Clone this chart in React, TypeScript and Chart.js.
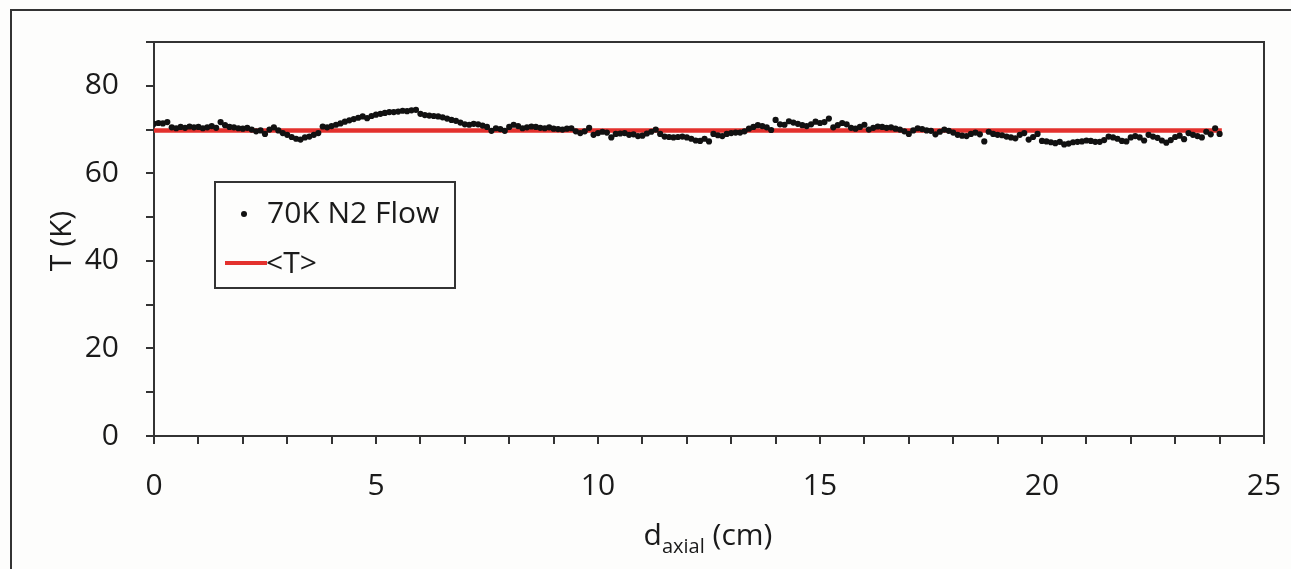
import React, { useEffect, useRef } from "react";
import { Chart, registerables } from "chart.js";

Chart.register(...registerables);

// Sample positions along the axis (cm): start and spacing of the measurement grid
const X_START = 0;
const X_STEP = 0.1;

// Measured temperature (K), one value per sample position
const tempValues: number[] = [
  71.3, 71.5, 71.4, 71.7, 70.5, 70.3, 70.6, 70.4, 70.7, 70.5,
  70.6, 70.3, 70.5, 70.8, 70.4, 71.7, 71.0, 70.6, 70.5, 70.3,
  70.2, 70.4, 70.0, 69.6, 69.8, 69.0, 70.0, 70.5, 69.8, 69.2,
  68.8, 68.3, 67.9, 67.7, 68.2, 68.4, 68.8, 69.2, 70.7, 70.5,
  70.8, 71.1, 71.4, 71.8, 72.1, 72.4, 72.7, 73.0, 72.6, 73.1,
  73.4, 73.6, 73.8, 74.0, 74.0, 74.1, 74.3, 74.2, 74.4, 74.5,
  73.6, 73.3, 73.2, 73.1, 73.0, 72.8, 72.5, 72.2, 72.0, 71.6,
  71.2, 71.1, 71.3, 71.2, 70.9, 70.6, 69.7, 70.3, 70.1, 69.7,
  70.6, 71.1, 70.8, 70.3, 70.5, 70.7, 70.6, 70.4, 70.3, 70.5,
  70.2, 70.1, 70.0, 70.2, 70.3, 69.6, 69.2, 69.6, 70.4, 68.8,
  69.2, 69.5, 69.3, 68.2, 69.0, 69.1, 69.2, 68.8, 68.9, 68.5,
  68.6, 69.1, 69.5, 70.0, 69.0, 68.4, 68.3, 68.2, 68.3, 68.4,
  68.2, 67.9, 67.5, 67.4, 67.9, 67.3, 69.0, 68.7, 68.5, 69.0,
  69.2, 69.3, 69.3, 69.6, 70.2, 70.6, 71.0, 70.8, 70.5, 69.9,
  72.2, 71.2, 71.1, 71.9, 71.6, 71.3, 71.0, 70.8, 71.2, 71.8,
  71.5, 71.7, 72.5, 70.5, 71.0, 71.5, 71.2, 70.4, 70.2, 70.6,
  71.1, 70.0, 70.4, 70.7, 70.6, 70.4, 70.5, 70.2, 70.0, 69.6,
  69.0, 69.8, 70.3, 70.1, 69.8, 69.7, 68.9, 69.5, 70.0, 69.7,
  69.3, 68.8, 68.6, 68.5, 69.0, 69.3, 68.9, 67.3, 69.5, 69.0,
  68.8, 68.7, 68.4, 68.2, 68.0, 68.8, 69.2, 67.7, 68.3, 69.0,
  67.4, 67.3, 67.1, 66.9, 67.2, 66.6, 66.8, 67.1, 67.2, 67.3,
  67.5, 67.4, 67.2, 67.2, 67.6, 68.4, 68.2, 67.9, 67.4, 67.3,
  68.2, 68.5, 68.2, 67.5, 68.8, 68.4, 68.1, 67.5, 67.0, 67.6,
  68.3, 68.6, 67.8, 69.2, 68.8, 68.5, 68.2, 69.5, 68.9, 70.3,
  69.0,
];

// Mean temperature line <T>
const meanT = 69.8;
const meanXRange: number[] = [0, 24.05];

// Axis ranges and tick steps
const xRange: number[] = [0, 25];
const yRange: number[] = [0, 90];
const xTickStep = 1;
const xLabelEvery = 5;
const yTickStep = 10;
const yLabelEvery = 20;

const seriesLabel = "70K N2 Flow";
const meanLabel = "<T>";

const FONT = "'Open Sans', 'Noto Sans', sans-serif";
const TEXT = "#1a1a1a";
const AXIS = "#333333";
const RED = "#e3312d";

const framePlugin = {
  id: "frameAndTitles",
  afterDraw(chart: any) {
    const ctx = chart.ctx as CanvasRenderingContext2D;
    const { left, top, right, bottom } = chart.chartArea;
    ctx.save();
    ctx.strokeStyle = AXIS;
    ctx.lineWidth = 2;
    ctx.beginPath();
    ctx.moveTo(left - 8, top);
    ctx.lineTo(right, top);
    ctx.lineTo(right, bottom + 8);
    ctx.stroke();

    // x-axis title: d_axial (cm)
    ctx.fillStyle = TEXT;
    ctx.textBaseline = "alphabetic";
    ctx.textAlign = "left";
    const big = `30px ${FONT}`;
    const small = `20px ${FONT}`;
    ctx.font = big;
    const wD = ctx.measureText("d").width;
    const wRest = ctx.measureText(" (cm)").width;
    ctx.font = small;
    const wSub = ctx.measureText("axial").width;
    const total = wD + wSub + wRest;
    let x = 708 - total / 2;
    const base = 545;
    ctx.font = big;
    ctx.fillText("d", x, base);
    x += wD;
    ctx.font = small;
    ctx.fillText("axial", x, base + 8);
    x += wSub;
    ctx.font = big;
    ctx.fillText(" (cm)", x, base);

    // y-axis title
    ctx.save();
    ctx.translate(71, 241);
    ctx.rotate(-Math.PI / 2);
    ctx.textAlign = "center";
    ctx.font = big;
    ctx.fillText("T (K)", 0, 0);
    ctx.restore();
    ctx.restore();
  },
};

export default function App() {
  const canvasRef = useRef<HTMLCanvasElement | null>(null);

  useEffect(() => {
    if (!canvasRef.current) return;
    const points = tempValues.map((t, i) => ({ x: X_START + i * X_STEP, y: t }));
    const chart = new Chart(canvasRef.current, {
      type: "scatter",
      data: {
        datasets: [
          {
            label: seriesLabel,
            data: points,
            backgroundColor: "#111111",
            borderColor: "#111111",
            pointRadius: 3.1,
            pointBorderWidth: 0,
            showLine: false,
            order: 0,
          },
          {
            label: meanLabel,
            type: "line",
            data: meanXRange.map((x) => ({ x, y: meanT })),
            borderColor: RED,
            borderWidth: 4.5,
            pointRadius: 0,
            showLine: true,
            fill: false,
            order: 1,
          } as any,
        ],
      },
      options: {
        responsive: false,
        animation: false,
        devicePixelRatio: 1,
        layout: { padding: { left: 0, top: 42, right: 27, bottom: 0 } },
        plugins: {
          legend: { display: false },
          tooltip: { enabled: false },
        },
        scales: {
          x: {
            type: "linear",
            min: xRange[0],
            max: xRange[1],
            afterFit: (s: any) => {
              s.height = 133;
              s.paddingLeft = 0;
              s.paddingRight = 0;
            },
            ticks: {
              stepSize: xTickStep,
              autoSkip: false,
              maxRotation: 0,
              color: TEXT,
              font: { size: 30, family: FONT },
              padding: 24,
              callback: (v: any) => (Number(v) % xLabelEvery === 0 ? String(v) : ""),
            },
            grid: {
              drawOnChartArea: false,
              drawTicks: true,
              tickLength: 8,
              color: AXIS,
              lineWidth: 2,
            },
            border: { display: true, color: AXIS, width: 2 },
          },
          y: {
            type: "linear",
            min: yRange[0],
            max: yRange[1],
            afterFit: (s: any) => {
              s.width = 154;
              s.paddingTop = 0;
              s.paddingBottom = 0;
            },
            ticks: {
              stepSize: yTickStep,
              autoSkip: false,
              color: TEXT,
              font: { size: 30, family: FONT },
              padding: 27,
              callback: (v: any) => (Number(v) % yLabelEvery === 0 ? String(v) : ""),
            },
            grid: {
              drawOnChartArea: false,
              drawTicks: true,
              tickLength: 8,
              color: AXIS,
              lineWidth: 2,
            },
            border: { display: true, color: AXIS, width: 2 },
          },
        },
      },
      plugins: [framePlugin],
    });
    return () => chart.destroy();
  }, []);

  return (
    <div
      style={{
        position: "absolute",
        left: 0,
        top: 0,
        width: 1291,
        height: 569,
        overflow: "hidden",
        background: "#fdfdfc",
      }}
    >
      <div
        style={{
          position: "absolute",
          left: 10,
          top: 9,
          width: 1400,
          height: 700,
          border: `2px solid ${AXIS}`,
        }}
      />
      <canvas
        ref={canvasRef}
        width={1291}
        height={569}
        style={{ position: "absolute", left: 0, top: 0, width: 1291, height: 569 }}
      />
      <div
        style={{
          position: "absolute",
          left: 214,
          top: 181,
          width: 242,
          height: 108,
          boxSizing: "border-box",
          border: `2px solid ${AXIS}`,
          fontFamily: FONT,
          fontSize: 30,
          color: TEXT,
        }}
      >
        <div
          style={{
            position: "absolute",
            left: 25,
            top: 28,
            width: 6,
            height: 6,
            borderRadius: 3,
            background: "#111111",
          }}
        />
        <div style={{ position: "absolute", left: 51, top: 11, whiteSpace: "nowrap", lineHeight: "36px" }}>
          {seriesLabel}
        </div>
        <div
          style={{
            position: "absolute",
            left: 9,
            top: 78,
            width: 42,
            height: 4,
            background: RED,
          }}
        />
        <div style={{ position: "absolute", left: 50, top: 61, whiteSpace: "nowrap", lineHeight: "36px" }}>
          {meanLabel}
        </div>
      </div>
    </div>
  );
}
